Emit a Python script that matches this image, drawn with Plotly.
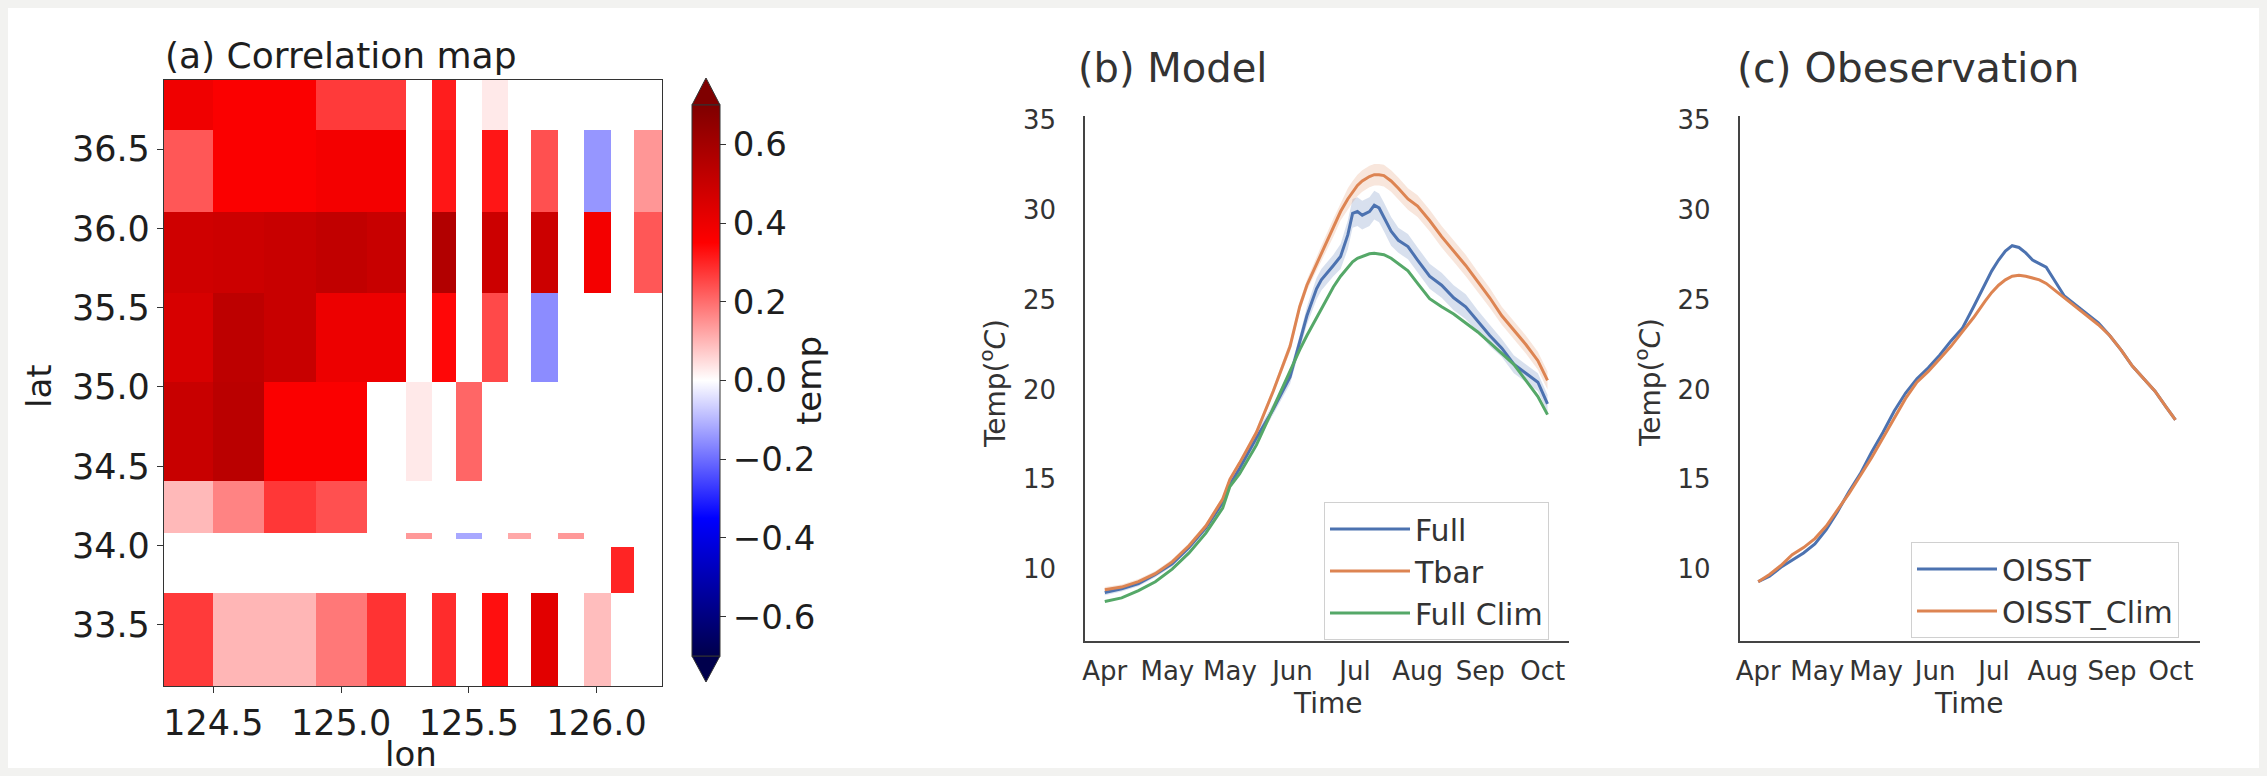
import plotly.graph_objects as go

W, H = 2267, 776

# ---------------- (a) correlation map data ----------------
lon_edges = [124.307, 124.50, 124.70, 124.90, 125.10, 125.255, 125.355, 125.45,
             125.55, 125.655, 125.745, 125.85, 125.95, 126.055, 126.145, 126.256]
lat_edges = [33.115, 33.70, 33.99, 34.04, 34.08, 34.41, 35.03, 35.59, 36.10, 36.62, 36.935]
N = None
corr_r0 = [0.27, 0.10, 0.10, 0.185, 0.28, N, 0.29, N, 0.33, N, 0.43, N, 0.09, N, N]
corr_r1 = [N, N, N, N, N, N, N, N, N, N, N, N, N, 0.30, N]
corr_r2 = [N, N, N, N, N, N, N, N, N, N, N, N, N, N, N]
corr_r3 = [N, N, N, N, N, 0.14, N, -0.12, N, 0.12, N, 0.14, N, N, N]
corr_r4 = [0.096, 0.17, 0.275, 0.24, N, N, N, N, N, N, N, N, N, N, N]
corr_r5 = [0.50, 0.54, 0.36, 0.36, N, 0.03, N, 0.21, N, N, N, N, N, N, N]
corr_r6 = [0.46, 0.53, 0.50, 0.40, 0.40, N, 0.34, N, 0.25, N, -0.158, N, N, N, N]
corr_r7 = [0.48, 0.49, 0.50, 0.52, 0.50, N, 0.56, N, 0.49, N, 0.49, N, 0.38, N, 0.23]
corr_r8 = [0.23, 0.36, 0.36, 0.38, 0.38, N, 0.32, N, 0.32, N, 0.24, N, -0.144, N, 0.144]
corr_r9 = [0.39, 0.36, 0.36, 0.27, 0.27, N, 0.31, N, 0.03, N, N, N, N, N, N]
corr = [corr_r0, corr_r1, corr_r2, corr_r3, corr_r4, corr_r5, corr_r6, corr_r7, corr_r8, corr_r9]

lon_ticks = [124.5, 125.0, 125.5, 126.0]
lon_ticktext = ["124.5", "125.0", "125.5", "126.0"]
lat_ticks = [33.5, 34.0, 34.5, 35.0, 35.5, 36.0, 36.5]
lat_ticktext = ["33.5", "34.0", "34.5", "35.0", "35.5", "36.0", "36.5"]
cbar_ticks = [-0.6, -0.4, -0.2, 0.0, 0.2, 0.4, 0.6]
cbar_ticktext = ["\u22120.6", "\u22120.4", "\u22120.2", "0.0", "0.2", "0.4", "0.6"]

# ---------------- (b) model data ----------------
days_model = [0, 7, 14, 21, 28, 35, 42, 49, 52, 56, 63, 70, 77, 81, 84, 88, 90, 95, 98, 101,
              103, 105, 107, 110, 112, 114, 116, 119, 122, 126, 130, 135, 140, 145, 150, 155,
              160, 165, 170, 175, 180, 184]
full = [8.7, 8.9, 9.2, 9.7, 10.3, 11.2, 12.3, 13.7, 14.7, 15.6, 17.3, 18.9, 20.7, 22.6, 24.1,
        25.6, 26.1, 26.9, 27.4, 28.6, 29.8, 29.9, 29.7, 29.9, 30.25, 30.1, 29.6, 28.8, 28.3,
        27.95, 27.2, 26.3, 25.8, 25.1, 24.6, 23.8, 23.0, 22.3, 21.4, 20.9, 20.4, 19.2]
full_sd = [0.15, 0.15, 0.15, 0.15, 0.15, 0.15, 0.2, 0.2, 0.2, 0.2, 0.3, 0.3, 0.4, 0.4, 0.5,
           0.6, 0.6, 0.6, 0.7, 0.8, 0.8, 0.8, 0.8, 0.8, 0.8, 0.8, 0.8, 0.8, 0.7, 0.7, 0.7,
           0.7, 0.7, 0.7, 0.7, 0.6, 0.6, 0.5, 0.5, 0.5, 0.5, 0.5]
tbar = [8.85, 9.0, 9.3, 9.75, 10.4, 11.3, 12.4, 13.9, 15.0, 15.9, 17.6, 19.9, 22.4, 24.6, 25.8,
        27.0, 27.6, 29.0, 29.9, 30.6, 31.0, 31.35, 31.6, 31.85, 31.95, 31.95, 31.9, 31.6, 31.2,
        30.6, 30.2, 29.4, 28.5, 27.7, 26.9, 26.0, 25.1, 24.1, 23.3, 22.5, 21.6, 20.5]
tbar_sd = [0.15, 0.15, 0.15, 0.15, 0.15, 0.15, 0.15, 0.15, 0.15, 0.15, 0.2, 0.2, 0.3, 0.3, 0.3,
           0.4, 0.4, 0.5, 0.5, 0.6, 0.6, 0.6, 0.6, 0.6, 0.6, 0.6, 0.6, 0.6, 0.6, 0.6, 0.6,
           0.6, 0.6, 0.6, 0.6, 0.55, 0.55, 0.5, 0.5, 0.5, 0.5, 0.5]
full_clim = [8.2, 8.4, 8.8, 9.3, 10.0, 10.9, 12.0, 13.4, 14.6, 15.3, 16.9, 19.0, 21.1, 22.2, 23.0,
             24.0, 24.5, 25.7, 26.3, 26.8, 27.1, 27.3, 27.4, 27.55, 27.58, 27.55, 27.5, 27.3,
             27.0, 26.6, 25.9, 25.05, 24.6, 24.2, 23.7, 23.2, 22.6, 22.0, 21.4, 20.5, 19.6, 18.6]

# ---------------- (c) observation data ----------------
days_obs = [0, 5, 10, 15, 20, 25, 30, 35, 40, 45, 50, 55, 60, 65, 70, 75, 80, 85, 90, 95, 100,
            103, 106, 109, 112, 115, 118, 121, 124, 127, 130, 135, 140, 145, 150, 155, 160,
            165, 170, 175, 180, 184]
oisst = [9.3, 9.6, 10.1, 10.5, 10.9, 11.4, 12.2, 13.2, 14.3, 15.3, 16.5, 17.6, 18.8, 19.8, 20.6,
         21.2, 21.9, 22.7, 23.4, 24.6, 25.9, 26.6, 27.2, 27.7, 28.0, 27.9, 27.6, 27.2, 27.0,
         26.8, 26.2, 25.2, 24.7, 24.2, 23.7, 23.0, 22.2, 21.3, 20.6, 19.9, 19.0, 18.3]
oisst_clim = [9.3, 9.7, 10.2, 10.8, 11.2, 11.7, 12.4, 13.3, 14.2, 15.2, 16.2, 17.3, 18.4, 19.5,
              20.4, 21.0, 21.7, 22.4, 23.2, 24.0, 24.9, 25.4, 25.8, 26.1, 26.3, 26.35, 26.3,
              26.2, 26.1, 25.9, 25.6, 25.1, 24.6, 24.1, 23.6, 23.0, 22.2, 21.3, 20.6, 19.9,
              19.0, 18.3]

time_tickvals = [0, 26, 52, 78, 104, 130, 156, 182]
time_ticktext = ["Apr", "May", "May", "Jun", "Jul", "Aug", "Sep", "Oct"]
temp_tickvals = [10, 15, 20, 25, 30, 35]
temp_ticktext = ["10", "15", "20", "25", "30", "35"]

# ---------------- styling ----------------
FONT = "DejaVu Sans"
DARK = "#1e1e1e"
GREY = "#333333"
BLUE = "#4C72B0"
ORANGE = "#DD8452"
GREEN = "#55A868"

seismic = [[0.0, "rgb(0,0,76)"], [0.25, "rgb(0,0,255)"], [0.5, "rgb(255,255,255)"],
           [0.75, "rgb(255,0,0)"], [1.0, "rgb(127,0,0)"]]


def px_x(p):
    return p / W


def px_y(p):
    return 1 - p / H


fig = go.Figure()

# (a) heatmap
cb_top, cb_bot = 105, 656
fig.add_trace(go.Heatmap(
    x=lon_edges, y=lat_edges, z=corr, colorscale=seismic, zmin=-0.7, zmax=0.7,
    xaxis="x", yaxis="y", hoverongaps=False,
    colorbar=dict(
        x=px_x(692), xanchor="left", y=px_y((cb_top + cb_bot) / 2), yanchor="middle",
        len=(cb_bot - cb_top) / H, lenmode="fraction", thickness=28, thicknessmode="pixels",
        xpad=0, ypad=0, outlinewidth=1, outlinecolor=GREY,
        tickvals=cbar_ticks, ticktext=cbar_ticktext, ticks="outside", ticklen=6,
        tickcolor=GREY, tickfont=dict(family=FONT, size=34, color=DARK),
        title=dict(text="temp", side="right", font=dict(family=FONT, size=34, color=DARK)),
    ),
))


def band(days, mean, sd, color):
    upper = [m + s for m, s in zip(mean, sd)]
    lower = [m - s for m, s in zip(mean, sd)]
    return dict(x=days + days[::-1], y=upper + lower[::-1], fill="toself",
                fillcolor=color, line=dict(width=0), hoverinfo="skip", showlegend=False)


# (b) model
fig.add_trace(go.Scatter(**band(days_model, full, full_sd, "rgba(76,114,176,0.22)"),
                         xaxis="x2", yaxis="y2"))
fig.add_trace(go.Scatter(**band(days_model, tbar, tbar_sd, "rgba(221,132,82,0.2)"),
                         xaxis="x2", yaxis="y2"))
fig.add_trace(go.Scatter(x=days_model, y=full, name="Full", mode="lines",
                         line=dict(color=BLUE, width=3), xaxis="x2", yaxis="y2", legend="legend"))
fig.add_trace(go.Scatter(x=days_model, y=tbar, name="Tbar", mode="lines",
                         line=dict(color=ORANGE, width=3), xaxis="x2", yaxis="y2", legend="legend"))
fig.add_trace(go.Scatter(x=days_model, y=full_clim, name="Full Clim", mode="lines",
                         line=dict(color=GREEN, width=3), xaxis="x2", yaxis="y2", legend="legend"))

# (c) observation
fig.add_trace(go.Scatter(x=days_obs, y=oisst, name="OISST", mode="lines",
                         line=dict(color=BLUE, width=3), xaxis="x3", yaxis="y3", legend="legend2"))
fig.add_trace(go.Scatter(x=days_obs, y=oisst_clim, name="OISST_Clim", mode="lines",
                         line=dict(color=ORANGE, width=3), xaxis="x3", yaxis="y3", legend="legend2"))

heat_axis = dict(showgrid=False, zeroline=False, showline=True, mirror=True, linecolor=GREY,
                 linewidth=1.2, ticks="outside", ticklen=6, tickwidth=1.2, tickcolor=GREY,
                 tickfont=dict(family=FONT, size=35, color=DARK), automargin=False)
line_axis = dict(showgrid=False, zeroline=False, showline=True, mirror=False, linecolor="#444444",
                 linewidth=2, ticks="", tickfont=dict(family=FONT, size=26, color=GREY),
                 automargin=False)

fig.update_layout(
    width=W, height=H, autosize=False,
    margin=dict(l=0, r=0, t=0, b=0, pad=0, autoexpand=False),
    paper_bgcolor="#f2f2f0", plot_bgcolor="white",
    font=dict(family=FONT, color=DARK),
    xaxis=dict(**heat_axis, domain=[px_x(164), px_x(662)], range=[124.307, 126.256],
               tickvals=lon_ticks, ticktext=lon_ticktext, anchor="y"),
    yaxis=dict(**heat_axis, domain=[px_y(686), px_y(80)], range=[33.115, 36.935],
               tickvals=lat_ticks, ticktext=lat_ticktext, anchor="x"),
    xaxis2=dict(**line_axis, domain=[px_x(1085.3), px_x(1568.8)], range=[-8.1, 192.85],
                tickvals=time_tickvals, ticktext=time_ticktext, anchor="y2", ticklabelstandoff=6),
    yaxis2=dict(**line_axis, domain=[px_y(641), px_y(116.3)], range=[6, 35.2],
                tickvals=temp_tickvals, ticktext=temp_ticktext, anchor="x2", ticklabelstandoff=22),
    xaxis3=dict(**line_axis, domain=[px_x(1739.7), px_x(2199.7)], range=[-8.16, 194.7],
                tickvals=time_tickvals, ticktext=time_ticktext, anchor="y3", ticklabelstandoff=6),
    yaxis3=dict(**line_axis, domain=[px_y(641), px_y(116.3)], range=[6, 35.2],
                tickvals=temp_tickvals, ticktext=temp_ticktext, anchor="x3", ticklabelstandoff=22),
    legend=dict(x=px_x(1324), y=px_y(502), xanchor="left", yanchor="top",
                bgcolor="white", bordercolor="#d0d0d0", borderwidth=1,
                font=dict(family=FONT, size=30, color=GREY), itemwidth=80, tracegroupgap=0),
    legend2=dict(x=px_x(1911), y=px_y(542), xanchor="left", yanchor="top",
                 bgcolor="white", bordercolor="#d0d0d0", borderwidth=1,
                 font=dict(family=FONT, size=30, color=GREY), itemwidth=80, tracegroupgap=0),
    showlegend=True,
)

# background panel + colorbar extension triangles
cx0, cx1, cxm = 692, 720, 706
fig.update_layout(shapes=[
    dict(type="rect", xref="paper", yref="paper", x0=px_x(8), x1=px_x(W - 8),
         y0=px_y(H - 8), y1=px_y(8), fillcolor="white", line=dict(width=0), layer="below"),
    dict(type="path", xref="paper", yref="paper",
         path=f"M {px_x(cx0)},{px_y(cb_top)} L {px_x(cx1)},{px_y(cb_top)} L {px_x(cxm)},{px_y(78)} Z",
         fillcolor="rgb(127,0,0)", line=dict(color=GREY, width=1)),
    dict(type="path", xref="paper", yref="paper",
         path=f"M {px_x(cx0)},{px_y(cb_bot)} L {px_x(cx1)},{px_y(cb_bot)} L {px_x(cxm)},{px_y(682)} Z",
         fillcolor="rgb(0,0,76)", line=dict(color=GREY, width=1)),
])

ann = []


def text(t, x, y, size, color, xanchor="center", angle=0):
    ann.append(dict(text=t, x=px_x(x), y=px_y(y), xref="paper", yref="paper",
                    xanchor=xanchor, yanchor="middle", showarrow=False, textangle=angle,
                    font=dict(family=FONT, size=size, color=color)))


text("(a) Correlation map", 163, 56, 36, DARK, xanchor="left")
text("lat", 39, 386, 34, DARK, angle=-90)
text("lon", 411, 754, 34, DARK)
text("(b) Model", 1076, 68, 40, GREY, xanchor="left")
text("Time", 1328, 703, 28, GREY)
text("Temp(<sup>o</sup><i>C</i>)", 993, 383, 28, GREY, angle=-90)
text("(c) Obeservation", 1735, 68, 41, GREY, xanchor="left")
text("Time", 1969, 703, 28, GREY)
text("Temp(<sup>o</sup><i>C</i>)", 1648, 383, 28, GREY, angle=-90)
fig.update_layout(annotations=ann)

fig.write_html("out.html", config={"displayModeBar": False},
               post_script="document.body.style.margin='0';document.body.style.padding='0';"
                           "document.body.style.overflow='hidden';")
